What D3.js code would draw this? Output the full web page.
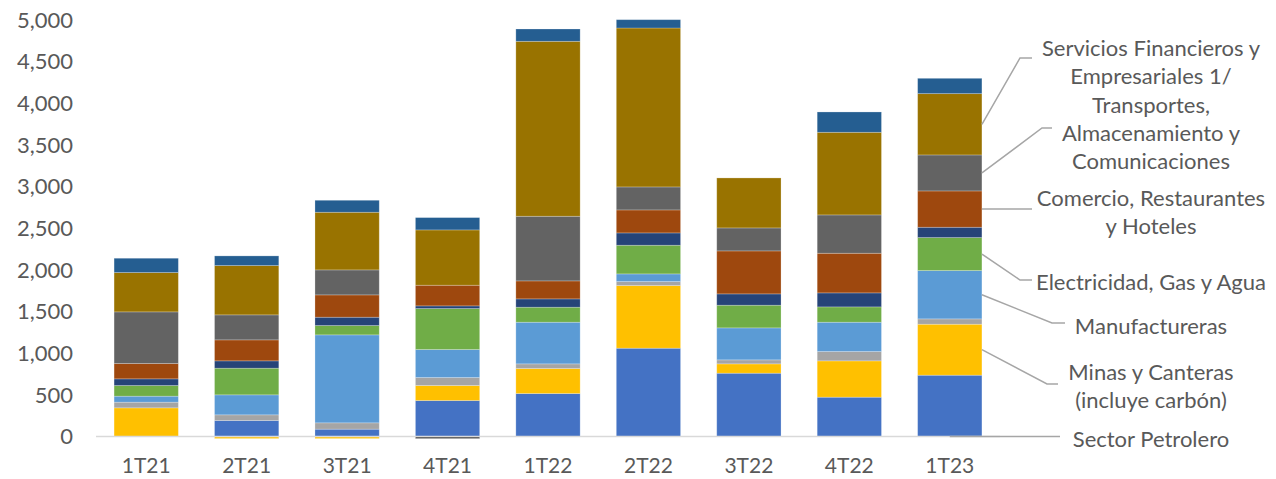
<!DOCTYPE html>
<html>
<head>
<meta charset="utf-8">
<script src="https://cdn.jsdelivr.net/npm/d3@7"></script>
<style>
  html, body { margin: 0; padding: 0; background: #fff; }
  svg { display: block; font-family: Lato, "Open Sans", sans-serif; }
</style>
</head>
<body>
<div class="chart"></div>
<script>
// quarters on the x axis
const quarters = ['1T21', '2T21', '3T21', '4T21', '1T22', '2T22', '3T22', '4T22', '1T23']

// series, bottom to top of each bar
const petrolero     = [0, 0, 0, -25, 0, 0, 0, 0, 0]
const agropecuario  = [0, 192, 88, 432, 516, 1060, 760, 472, 736]
const minas         = [344, -25, -25, 180, 300, 752, 112, 436, 612]
const otrosA        = [68, 68, 76, 96, 56, 48, 48, 112, 64]
const manufactura   = [72, 240, 1056, 336, 500, 92, 384, 352, 580]
const electricidad  = [128, 320, 112, 492, 180, 344, 272, 184, 396]
const construccion  = [80, 88, 100, 32, 100, 148, 136, 168, 124]
const comercio      = [184, 252, 268, 248, 216, 276, 516, 476, 436]
const transportes   = [620, 300, 300, 0, 776, 276, 276, 460, 432]
const servicios     = [472, 592, 692, 664, 2100, 1908, 600, 992, 736]
const otrosB        = [172, 116, 144, 148, 148, 100, 0, 244, 184]

const yTicks = [0, 500, 1000, 1500, 2000, 2500, 3000, 3500, 4000, 4500, 5000]

const series = [
  {key: 'petrolero', values: petrolero, color: '#404040', label: ['Sector Petrolero']},
  {key: 'agropecuario', values: agropecuario, color: '#4472C4'},
  {key: 'minas', values: minas, color: '#FFC000', label: ['Minas y Canteras', '(incluye carbón)']},
  {key: 'otrosA', values: otrosA, color: '#A5A5A5'},
  {key: 'manufactura', values: manufactura, color: '#5B9BD5', label: ['Manufactureras']},
  {key: 'electricidad', values: electricidad, color: '#70AD47', label: ['Electricidad, Gas y Agua']},
  {key: 'construccion', values: construccion, color: '#264478'},
  {key: 'comercio', values: comercio, color: '#9E480E', label: ['Comercio, Restaurantes', 'y Hoteles']},
  {key: 'transportes', values: transportes, color: '#636363', label: ['Transportes,', 'Almacenamiento y', 'Comunicaciones']},
  {key: 'servicios', values: servicios, color: '#997300', label: ['Servicios Financieros y', 'Empresariales 1/']},
  {key: 'otrosB', values: otrosB, color: '#255E91'}
]

// rows for d3.stack
let table = quarters.map((q, i) => {
  let row = {quarter: q}
  series.forEach(s => { row[s.key] = s.values[i] })
  return row
})

let width = 1276
let height = 479
let margin = {top: 20, right: 276, bottom: 42, left: 96}

let x = d3.scaleBand()
  .domain(quarters)
  .range([margin.left, width - margin.right])
  .paddingInner(0.36)
  .paddingOuter(0.18)

let y = d3.scaleLinear()
  .domain([0, 5000])
  .range([height - margin.bottom - 0.5, margin.top])

let stack = d3.stack()
  .keys(series.map(s => s.key))
  .offset(d3.stackOffsetDiverging)

let stacked = stack(table)

const svg = d3.select('.chart').append('svg')
  .attr('width', width)
  .attr('height', height)
  .attr('viewBox', [0, 0, width, height])

// y tick labels (no gridlines in the original)
svg.append('g')
    .attr('fill', '#595959')
    .attr('font-size', 22)
    .attr('text-anchor', 'end')
  .selectAll('text')
  .data(yTicks)
  .join('text')
    .attr('x', 73)
    .attr('y', d => y(d))
    .attr('dy', '0.35em')
    .text(d => d3.format(',')(d))

// bars
svg.append('g')
  .selectAll('g')
  .data(stacked)
  .join('g')
    .attr('fill', (d, i) => series[i].color)
  .selectAll('rect')
  .data(d => d)
  .join('rect')
    .attr('x', d => x(d.data.quarter))
    .attr('y', d => y(Math.max(d[0], d[1])))
    .attr('width', x.bandwidth())
    .attr('height', d => Math.abs(y(d[0]) - y(d[1])))
    .attr('stroke', '#ffffff')
    .attr('stroke-opacity', 0.3)
    .attr('stroke-width', 0.8)

// baseline
svg.append('line')
  .attr('x1', x.range()[0])
  .attr('x2', x.range()[1])
  .attr('y1', y(0))
  .attr('y2', y(0))
  .attr('stroke', '#D9D9D9')
  .attr('stroke-width', 1.5)

// x labels
svg.append('g')
    .attr('fill', '#595959')
    .attr('font-size', 21)
    .attr('text-anchor', 'middle')
  .selectAll('text')
  .data(quarters)
  .join('text')
    .attr('x', d => x(d) + x.bandwidth() / 2)
    .attr('y', 466)
    .attr('dy', '0.35em')
    .text(d => d)

// labels on the last bar with leader lines
const last = quarters[quarters.length - 1]
const lastIdx = quarters.length - 1
// elbow point, line end, first text line y (layout only)
const labelPos = {
  servicios:    {elbow: [1020, 58], end: [1032, 58], textY: 48},
  transportes:  {elbow: [1042, 128], end: [1052, 128], textY: 105},
  comercio:     {elbow: null, end: [1032, null], textY: 198},
  electricidad: {elbow: [1020, 280], end: [1032, 280], textY: 282},
  manufactura:  {elbow: [1052, 323], end: [1065, 323], textY: 326},
  minas:        {elbow: [1047, 384], end: [1058, 384], textY: 372},
  petrolero:    {elbow: null, end: [1060, null], textY: 439}
}
const labelX = 1151
const lineStep = 28

let lines = svg.append('g')
  .attr('fill', 'none')
  .attr('stroke', '#A6A6A6')
  .attr('stroke-width', 1.5)

let labels = svg.append('g')
  .attr('fill', '#595959')
  .attr('font-size', 22)
  .attr('text-anchor', 'middle')

stacked.forEach((layer, i) => {
  let s = series[i]
  if (!s.label) return
  let p = labelPos[s.key]
  let seg = layer[lastIdx]
  let ay = y((seg[0] + seg[1]) / 2)
  let ax = s.values[lastIdx] === 0 ? x(last) + x.bandwidth() / 2 : x(last) + x.bandwidth()
  let pts = [[ax, ay]]
  if (p.elbow) pts.push(p.elbow)
  pts.push([p.end[0], p.end[1] == null ? ay : p.end[1]])
  lines.append('path').attr('d', d3.line()(pts))

  s.label.forEach((t, k) => {
    labels.append('text')
      .attr('x', labelX)
      .attr('y', p.textY + k * lineStep)
      .attr('dy', '0.35em')
      .text(t)
  })
})
</script>
</body>
</html>
